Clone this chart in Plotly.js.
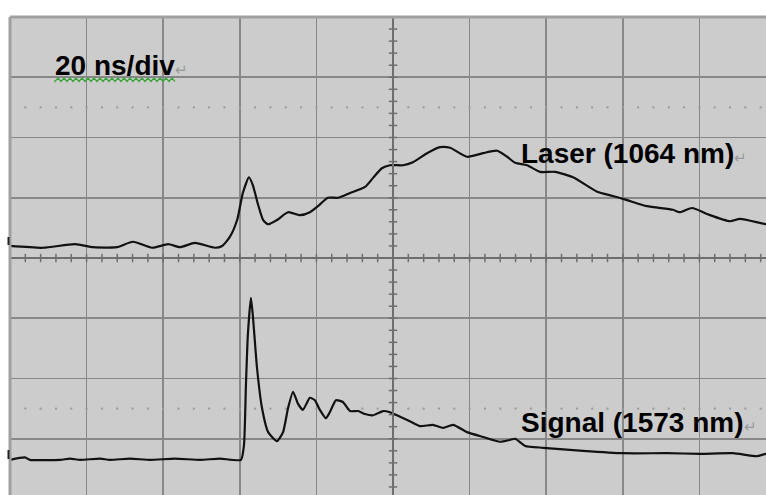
<!DOCTYPE html>
<html>
<head>
<meta charset="utf-8">
<script src="https://cdn.plot.ly/plotly-3.0.1.min.js"></script>
<style>
html,body{margin:0;padding:0;overflow:hidden;background:#fff;width:766px;height:495px;}
#chart{width:776px;height:499px;}
</style>
</head>
<body>
<div id="chart"></div>
<script>
// time in ns (20 ns/div), amplitude in divisions
const laserTime = [0,8.6,17.0,21.7,27.9,32.1,37.1,41.3,44.4,48.3,53.5,55.4,57.4,59.3,60.8,62.4,63.4,64.8,66.1,67.4,69.7,72.6,75.7,78.3,80.4,83.0,85.6,88.8,92.7,94.8,97.1,99.2,102.6,105.2,108.9,112.3,114.9,119.3,123.5,127.2,129.8,131.9,135.0,138.4,142.3,147.0,153.3,157.4,161.1,166.3,173.1,174.9,178.1,182.0,188.0,190.6,197.4,200];
const laserAmp  = [0.20,0.17,0.23,0.18,0.18,0.27,0.17,0.23,0.18,0.25,0.17,0.20,0.35,0.63,1.08,1.34,1.21,0.88,0.63,0.56,0.63,0.76,0.71,0.76,0.86,1.00,1.00,1.08,1.18,1.33,1.49,1.54,1.54,1.59,1.74,1.84,1.83,1.68,1.74,1.78,1.68,1.58,1.54,1.43,1.43,1.34,1.10,1.03,0.96,0.86,0.80,0.76,0.83,0.73,0.61,0.65,0.56,0.55];

const signalTime = [0,3.9,5.2,13.1,15.7,18.3,23.5,26.1,31.3,36.6,43.1,49.6,54.8,60.3,61.1,61.6,62.1,62.9,63.4,64.5,65.8,67.4,69.7,71.3,72.6,73.9,75.2,76.5,78.3,79.6,80.9,82.5,83.5,85.1,86.9,88.8,90.9,92.7,94.8,97.4,99.2,101.3,104.4,107.0,110.4,113.1,115.7,119.3,123.5,127.9,130.5,131.9,134.5,139.2,149.6,160.0,171.5,180.2,188.8,195.0,197.4,200];
const signalAmp  = [-3.35,-3.31,-3.35,-3.35,-3.33,-3.35,-3.33,-3.35,-3.33,-3.35,-3.33,-3.35,-3.33,-3.35,-3.10,-2.11,-1.28,-0.66,-0.95,-1.83,-2.49,-2.89,-3.04,-2.89,-2.49,-2.22,-2.42,-2.52,-2.32,-2.36,-2.52,-2.66,-2.56,-2.36,-2.39,-2.54,-2.54,-2.59,-2.61,-2.54,-2.56,-2.62,-2.71,-2.79,-2.77,-2.82,-2.77,-2.89,-2.97,-3.05,-3.02,-3.00,-3.12,-3.15,-3.20,-3.24,-3.24,-3.25,-3.24,-3.29,-3.25,-3.26];

const labels = ["20 ns/div", "Laser (1064 nm)", "Signal (1573 nm)"];

// graticule helpers (decorative)
const minorX = [], minorY = [];
for (let i = 0; i <= 50; i++) minorX.push(i * 4);
for (let i = 0; i <= 40; i++) minorY.push(-4 + i * 0.2);

const tickCol = '#6e6e6e';
const traces = [
  {x: minorX, y: minorX.map(() => 0), mode: 'markers', hoverinfo: 'skip',
   marker: {symbol: 'line-ns', size: 6, line: {width: 1.5, color: tickCol}}},
  {x: minorY.map(() => 100), y: minorY, mode: 'markers', hoverinfo: 'skip',
   marker: {symbol: 'line-ew', size: 6, line: {width: 1.5, color: tickCol}}},
  {x: minorX, y: minorX.map(() => 2.5), mode: 'markers', hoverinfo: 'skip',
   marker: {symbol: 'square', size: 2, color: '#9a9a9a'}},
  {x: minorX, y: minorX.map(() => -2.5), mode: 'markers', hoverinfo: 'skip',
   marker: {symbol: 'square', size: 2, color: '#9a9a9a'}},
  {x: laserTime, y: laserAmp, mode: 'lines', name: 'Laser',
   line: {color: '#111', width: 2.2, shape: 'spline', smoothing: 0.6}},
  {x: signalTime, y: signalAmp, mode: 'lines', name: 'Signal',
   line: {color: '#111', width: 2.2, shape: 'spline', smoothing: 0.5}}
];

// pixel helpers for decorations
const W = 766, H = 482, L = 10, T = 17;
const px = p => (p - L) / W;
const py = p => 1 - (p - T) / H;

// green wavy spell-check underline
let zz = 'M ' + px(55) + ' ' + py(80);
for (let x = 55, k = 0; x <= 177; x += 3, k++) {
  zz += ' L ' + px(x) + ' ' + py(k % 2 ? 78 : 81.5);
}

const shapes = [
  {type: 'line', xref: 'x', yref: 'y', x0: 0, x1: 200, y0: 0, y1: 0, line: {color: '#6e6e6e', width: 2}},
  {type: 'line', xref: 'x', yref: 'y', x0: 100, x1: 100, y0: -4, y1: 4, line: {color: '#6e6e6e', width: 2}},
  {type: 'line', xref: 'paper', yref: 'paper', x0: 0, x1: 1, y0: 1, y1: 1, line: {color: '#a0a0a0', width: 3}},
  {type: 'line', xref: 'paper', yref: 'paper', x0: 0, x1: 0, y0: 0, y1: 1, line: {color: '#a0a0a0', width: 3}},
  {type: 'line', xref: 'paper', yref: 'paper', x0: px(8.5), x1: px(8.5), y0: py(237), y1: py(245), line: {color: '#222', width: 2}},
  {type: 'line', xref: 'paper', yref: 'paper', x0: px(8.5), x1: px(8.5), y0: py(450), y1: py(459), line: {color: '#222', width: 2}},
  {type: 'path', xref: 'paper', yref: 'paper', path: zz, line: {color: '#3aa53a', width: 1.2}}
];

const mark = "<span style='color:#9a9a9a;font-size:15px;font-weight:normal'>↵</span>";
const font = {family: 'Liberation Sans, Arial, sans-serif', size: 28, color: '#000', weight: 'bold'};
const annotations = [
  {xref: 'paper', yref: 'paper', x: px(53), y: py(66), xanchor: 'left', yanchor: 'middle',
   text: labels[0] + mark, showarrow: false, font: font},
  {xref: 'paper', yref: 'paper', x: px(519), y: py(153), xanchor: 'left', yanchor: 'middle',
   text: labels[1] + mark, showarrow: false, font: font},
  {xref: 'paper', yref: 'paper', x: px(519), y: py(422), xanchor: 'left', yanchor: 'middle',
   text: labels[2] + mark, showarrow: false, font: font}
];

const layout = {
  width: 776, height: 499,
  margin: {l: 10, r: 0, t: 17, b: 0},
  paper_bgcolor: '#fff', plot_bgcolor: '#cccccc',
  showlegend: false,
  xaxis: {range: [0, 200], dtick: 20, tick0: 0, showgrid: true, gridcolor: '#888888', gridwidth: 1.6,
          zeroline: false, showticklabels: false, ticks: '', showline: false, fixedrange: true},
  yaxis: {range: [-4, 4], dtick: 1, tick0: 0, showgrid: true, gridcolor: '#888888', gridwidth: 1.6,
          zeroline: false, showticklabels: false, ticks: '', showline: false, fixedrange: true},
  shapes: shapes,
  annotations: annotations
};

Plotly.newPlot('chart', traces, layout, {displayModeBar: false, staticPlot: true});
</script>
</body>
</html>
